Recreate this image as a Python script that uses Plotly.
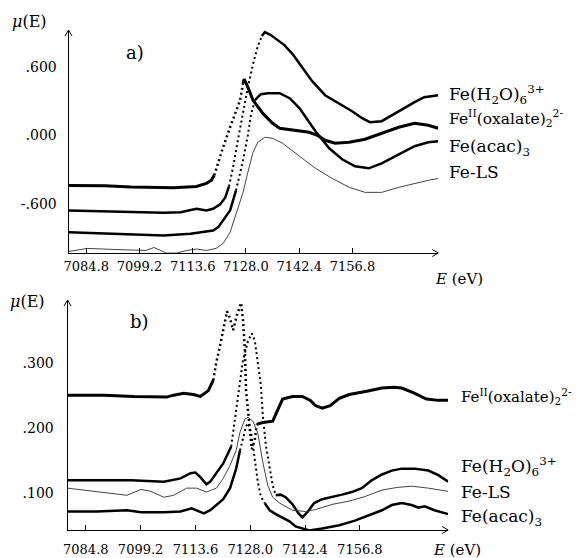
import numpy as np
import plotly.graph_objects as go

W, H = 583, 558
OFF = 8  # the page body adds an 8 px margin; the figure is sized to the remaining area

# ---------------- Panel a) : normalized XANES spectra ----------------
ea_oxal = [7080.0, 7089.7, 7096.9, 7103.1, 7108.4, 7114.6, 7117.3, 7118.6, 7119.4, 7120.2,
           7121.8, 7123.7, 7125.3, 7126.4, 7127.2, 7127.5, 7128.5, 7129.9, 7132.5, 7135.2,
           7137.1, 7140.6, 7145.1, 7147.3, 7149.4, 7152.1, 7155.9, 7160.2, 7164.7, 7169.3,
           7173.6, 7177.3, 7180.0]
va_oxal = [-0.438, -0.442, -0.453, -0.455, -0.458, -0.447, -0.420, -0.394, -0.350, -0.263,
           -0.105, 0.070, 0.219, 0.306, 0.455, 0.490, 0.420, 0.306, 0.193, 0.105,
           0.061, 0.044, 0.026, 0.000, -0.044, -0.070, -0.061, -0.035, 0.018, 0.070,
           0.105, 0.088, 0.061]

ea_h2o = [7080.0, 7087.8, 7096.9, 7105.7, 7110.3, 7113.0, 7114.6, 7117.3, 7119.1, 7121.0,
          7122.4, 7123.4, 7124.5, 7125.8, 7127.2, 7128.5, 7129.9, 7131.2, 7132.3, 7133.1,
          7134.7, 7136.6, 7138.4, 7140.6, 7143.3, 7145.9, 7149.4, 7153.2, 7156.7, 7159.4,
          7161.5, 7164.7, 7167.4, 7170.1, 7173.6, 7176.2, 7180.0]
va_h2o = [-0.657, -0.663, -0.672, -0.677, -0.672, -0.657, -0.642, -0.657, -0.642, -0.604,
          -0.543, -0.447, -0.280, -0.044, 0.201, 0.420, 0.622, 0.779, 0.867, 0.902,
          0.876, 0.832, 0.788, 0.709, 0.587, 0.473, 0.350, 0.280, 0.210, 0.149,
          0.114, 0.123, 0.175, 0.228, 0.289, 0.333, 0.350]

ea_acac = [7080.0, 7087.8, 7096.9, 7105.7, 7113.0, 7116.5, 7119.1, 7120.5, 7121.8, 7123.7,
           7125.3, 7127.2, 7128.5, 7129.3, 7130.4, 7132.0, 7133.9, 7137.1, 7139.8, 7142.5,
           7145.1, 7146.8, 7150.5, 7154.0, 7157.5, 7161.2, 7164.7, 7169.3, 7173.6, 7177.3,
           7180.0]
va_acac = [-0.847, -0.856, -0.867, -0.876, -0.861, -0.847, -0.832, -0.803, -0.744, -0.657,
           -0.482, -0.219, 0.000, 0.175, 0.306, 0.359, 0.368, 0.368, 0.324, 0.236,
           0.114, 0.035, -0.114, -0.210, -0.271, -0.289, -0.245, -0.166, -0.096, -0.061,
           -0.053]

ea_ls = [7080.0, 7085.1, 7092.3, 7098.5, 7100.9, 7103.1, 7104.9, 7106.5, 7109.2, 7111.9,
         7114.6, 7117.3, 7119.9, 7121.8, 7123.7, 7125.3, 7127.2, 7128.5, 7129.9, 7131.2,
         7133.1, 7135.2, 7137.9, 7142.5, 7146.8, 7151.3, 7155.9, 7160.2, 7164.7, 7169.3,
         7173.6, 7177.3, 7180.0]
va_ls = [-1.016, -0.989, -0.998, -1.007, -1.007, -0.981, -1.007, -1.030, -1.030, -1.007,
         -0.994, -1.007, -0.989, -0.946, -0.849, -0.692, -0.499, -0.324, -0.149, -0.061,
         -0.018, -0.026, -0.070, -0.184, -0.289, -0.377, -0.455, -0.499, -0.499, -0.455,
         -0.420, -0.394, -0.377]

# ---------------- Panel b) : difference spectra ----------------
eb_oxal = [7080.0, 7089.6, 7097.4, 7102.7, 7106.0, 7107.9, 7110.5, 7113.1, 7114.9, 7117.0,
           7118.3, 7119.1, 7120.1, 7120.9, 7121.9, 7122.7, 7123.5, 7124.5, 7125.6, 7126.1,
           7126.6, 7126.9, 7127.4, 7127.9, 7128.4, 7129.2, 7129.7, 7131.3, 7133.9, 7135.2,
           7136.5, 7139.1, 7141.7, 7143.8, 7145.1, 7146.9, 7149.0, 7151.4, 7154.0, 7158.6,
           7162.6, 7165.7, 7167.8, 7171.1, 7174.3, 7177.4, 7180.0]
vb_oxal = [0.251, 0.251, 0.249, 0.248, 0.248, 0.251, 0.254, 0.252, 0.249, 0.258,
           0.274, 0.302, 0.328, 0.351, 0.380, 0.369, 0.351, 0.374, 0.393, 0.366,
           0.320, 0.258, 0.225, 0.197, 0.168, 0.182, 0.206, 0.209, 0.211, 0.228,
           0.245, 0.249, 0.249, 0.243, 0.235, 0.231, 0.235, 0.246, 0.252, 0.257,
           0.262, 0.263, 0.262, 0.254, 0.245, 0.243, 0.243]

eb_h2o = [7080.0, 7087.8, 7096.7, 7105.3, 7109.7, 7112.3, 7113.6, 7114.9, 7116.5, 7117.5,
          7119.1, 7120.9, 7122.2, 7123.0, 7123.5, 7124.3, 7125.3, 7126.1, 7127.4, 7128.4,
          7129.2, 7130.0, 7130.8, 7131.3, 7132.1, 7133.1, 7133.9, 7134.7, 7136.0, 7137.3,
          7139.1, 7140.7, 7141.7, 7143.0, 7144.8, 7146.9, 7149.5, 7152.1, 7154.7, 7157.3,
          7159.9, 7162.6, 7165.2, 7167.8, 7171.1, 7174.8, 7177.4, 7180.0]
vb_h2o = [0.120, 0.120, 0.120, 0.118, 0.123, 0.131, 0.132, 0.125, 0.114, 0.118,
          0.131, 0.146, 0.162, 0.172, 0.194, 0.231, 0.271, 0.305, 0.334, 0.346,
          0.335, 0.302, 0.266, 0.220, 0.174, 0.140, 0.112, 0.097, 0.098, 0.094,
          0.083, 0.069, 0.063, 0.071, 0.085, 0.091, 0.094, 0.098, 0.102, 0.108,
          0.120, 0.129, 0.135, 0.138, 0.138, 0.135, 0.128, 0.118]

eb_ls = [7080.0, 7087.8, 7092.2, 7095.6, 7099.3, 7101.9, 7105.3, 7107.9, 7111.3, 7113.9,
         7116.5, 7119.1, 7120.9, 7122.7, 7124.3, 7125.3, 7126.6, 7127.4, 7128.7, 7130.0,
         7131.3, 7132.6, 7133.9, 7135.7, 7139.1, 7142.5, 7145.1, 7149.5, 7154.0, 7158.1,
         7162.6, 7166.5, 7170.4, 7174.8, 7180.0]
vb_ls = [0.108, 0.103, 0.100, 0.097, 0.106, 0.103, 0.094, 0.097, 0.108, 0.108,
         0.102, 0.108, 0.123, 0.143, 0.166, 0.194, 0.214, 0.217, 0.211, 0.192,
         0.148, 0.112, 0.094, 0.085, 0.074, 0.072, 0.075, 0.083, 0.088, 0.095,
         0.105, 0.109, 0.111, 0.108, 0.103]

eb_acac = [7080.0, 7087.8, 7095.6, 7099.3, 7105.3, 7109.7, 7112.6, 7113.9, 7115.8, 7117.5,
           7119.1, 7120.9, 7122.7, 7124.3, 7125.3, 7126.1, 7126.9, 7127.4, 7128.2, 7128.7,
           7129.2, 7130.0, 7130.8, 7131.8, 7133.1, 7134.7, 7136.5, 7138.3, 7139.9, 7141.7,
           7143.5, 7146.9, 7151.4, 7155.5, 7159.2, 7162.6, 7165.2, 7167.8, 7170.4, 7172.2,
           7173.8, 7176.4, 7180.0]
vb_acac = [0.072, 0.072, 0.074, 0.071, 0.071, 0.072, 0.077, 0.074, 0.069, 0.074,
           0.082, 0.091, 0.108, 0.138, 0.166, 0.186, 0.203, 0.208, 0.194, 0.174,
           0.151, 0.117, 0.095, 0.085, 0.074, 0.068, 0.063, 0.057, 0.049, 0.046,
           0.043, 0.046, 0.051, 0.058, 0.066, 0.074, 0.082, 0.085, 0.082, 0.078,
           0.080, 0.074, 0.068]

xticks = [7084.8, 7099.2, 7113.6, 7128.0, 7142.4, 7156.8]
xticktext = ["7084.8", "7099.2", "7113.6", "7128.0", "7142.4", "7156.8"]
ya_ticks = [-0.6, 0.0, 0.6]
ya_text = ["-.600", ".000", ".600"]
yb_ticks = [0.1, 0.2, 0.3]
yb_text = [".100", ".200", ".300"]

lab_h2o = "Fe(H<sub>2</sub>O)<sub>6</sub><sup>3+</sup>"
lab_oxal = "Fe<sup>II</sup>(oxalate)<sub>2</sub><sup>2-</sup>"
lab_acac = "Fe(acac)<sub>3</sub>"
lab_ls = "Fe-LS"

FONT = "DejaVu Serif"

FW, FH = W - OFF, H - OFF


def px(x):
    return (x - OFF) / FW


def py(y):
    return 1 - (y - OFF) / FH


fig = go.Figure()


def add_series(e, v, xa, ya, lo, hi, width, color="black"):
    e = np.asarray(e, float)
    v = np.asarray(v, float)
    inside = (e >= lo) & (e <= hi)
    edge = (e == e[inside].min()) | (e == e[inside].max())
    solid = np.where(inside & ~edge, np.nan, v)
    fig.add_trace(go.Scatter(x=e, y=solid, mode="lines", xaxis=xa, yaxis=ya,
                             line=dict(color=color, width=width), connectgaps=False,
                             showlegend=False, hoverinfo="skip"))
    fig.add_trace(go.Scatter(x=e[inside], y=v[inside], mode="lines", xaxis=xa, yaxis=ya,
                             line=dict(color=color, width=width - 0.5, dash="2px,3px"),
                             showlegend=False, hoverinfo="skip"))


# panel a
add_series(ea_oxal, va_oxal, "x", "y", 7119.4, 7127.2, 3)
add_series(ea_h2o, va_h2o, "x", "y", 7123.4, 7132.3, 2.5)
add_series(ea_acac, va_acac, "x", "y", 7124.0, 7130.4, 2.5)
fig.add_trace(go.Scatter(x=ea_ls, y=va_ls, mode="lines", line=dict(color="#444", width=1),
                         showlegend=False, hoverinfo="skip"))
# panel b
add_series(eb_oxal, vb_oxal, "x2", "y2", 7118.3, 7129.7, 3)
add_series(eb_h2o, vb_h2o, "x2", "y2", 7123.0, 7134.7, 2.5)
add_series(eb_acac, vb_acac, "x2", "y2", 7125.3, 7131.8, 2.5)
fig.add_trace(go.Scatter(x=eb_ls, y=vb_ls, mode="lines", xaxis="x2", yaxis="y2",
                         line=dict(color="#444", width=1), showlegend=False, hoverinfo="skip"))

xcommon = dict(range=[7080, 7180], tickvals=xticks, ticktext=xticktext, showline=True,
               linecolor="black", linewidth=1, ticks="inside", ticklen=5, tickcolor="black",
               showgrid=False, zeroline=False, tickfont=dict(family=FONT, size=13, color="black"))
ycommon = dict(showline=True, linecolor="black", linewidth=1, ticks="", showgrid=False,
               zeroline=False, tickfont=dict(family=FONT, size=14, color="black"))

fig.update_layout(
    width=FW, height=FH, margin=dict(l=0, r=0, t=0, b=0),
    paper_bgcolor="white", plot_bgcolor="white",
    xaxis=dict(domain=[px(64), px(437)], anchor="y", ticklabelstandoff=1, **xcommon),
    yaxis=dict(domain=[py(253), py(30)], anchor="x", range=[-1.029, 0.920],
               tickvals=ya_ticks, ticktext=ya_text, ticklabelstandoff=8, **ycommon),
    xaxis2=dict(domain=[px(63), px(447)], anchor="y2", ticklabelstandoff=7, **xcommon),
    yaxis2=dict(domain=[py(530), py(300)], anchor="x2", range=[0.0436, 0.3974],
                tickvals=yb_ticks, ticktext=yb_text, ticklabelstandoff=10, **ycommon),
)

# axis arrowheads (open V)
shapes = []
for xr, yr in [("x domain", "y domain"), ("x2 domain", "y2 domain")]:
    for s in (-1, 1):
        shapes.append(dict(type="line", xref=xr, yref=yr, xsizemode="pixel", ysizemode="pixel",
                           xanchor=0, yanchor=1, x0=s * 3.5, y0=-6, x1=0, y1=0,
                           line=dict(color="black", width=1)))
        shapes.append(dict(type="line", xref=xr, yref=yr, xsizemode="pixel", ysizemode="pixel",
                           xanchor=1, yanchor=0, x0=-6, y0=s * 3.5, x1=0, y1=0,
                           line=dict(color="black", width=1)))
fig.update_layout(shapes=shapes)

ann = []


def label(text, x, y, size=17, xanchor="left"):
    ann.append(dict(text=text, x=px(x), y=py(y), xref="paper", yref="paper", showarrow=False,
                    xanchor=xanchor, yanchor="middle", borderpad=0,
                    font=dict(family=FONT, size=size, color="black")))


# panel a labels
label(lab_h2o, 447, 94)
label(lab_oxal, 447, 119, 15.5)
label(lab_acac, 447, 148)
label(lab_ls, 447, 172)
label("<i>μ</i>(E)", 6, 21, 16)
label("a)", 121, 53, 18)
label("<i>E</i> (eV)", 433, 279, 15)
# panel b labels
label(lab_oxal, 459, 396, 15)
label(lab_h2o, 459, 466)
label(lab_ls, 459, 492)
label(lab_acac, 459, 517)
label("<i>μ</i>(E)", 4, 301, 16)
label("b)", 125, 321, 18)
label("<i>E</i> (eV)", 431, 550, 15)

fig.update_layout(annotations=ann)
fig.write_html("out.html")
